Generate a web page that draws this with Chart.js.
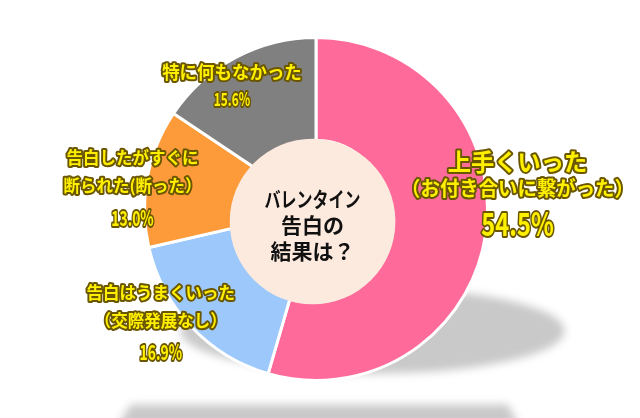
<!DOCTYPE html>
<html>
<head>
<meta charset="utf-8">
<script src="https://cdn.jsdelivr.net/npm/chart.js@4"></script>
<style>
  html, body { margin: 0; padding: 0; background: #fff; }
  #wrap { width: 640px; height: 418px; position: relative; }
</style>
</head>
<body>
<div id="wrap"><canvas id="pieChart"></canvas></div>
<script>
// data
const categories = ['上手くいった', '告白はうまくいった', '告白したがすぐに断られた(断った)', '特に何もなかった'];
const shares = [54.5, 16.9, 13.0, 15.6];
const labelLines = [
    ['上手くいった', '（お付き合いに繋がった）'],
    ['告白はうまくいった', '（交際発展なし）'],
    ['告白したがすぐに', '断られた(断った）'],
    ['特に何もなかった']
];
const centerTitle = ['バレンタイン', '告白の', '結果は？'];

const sliceColors = ['#fe6b9b', '#9cc8fc', '#fd9b3a', '#808080'];

// label anchors, in units of the outer radius from the pie centre
const labelLayout = [
    { dx: 1.175, dy: -0.275, size: [24, 20, 32], gap: 27 },
    { dx: -0.905, dy: 0.485, size: [17, 17, 21], gap: 28 },
    { dx: -1.07, dy: -0.30, size: [17, 17, 21], gap: 28 },
    { dx: -0.49, dy: -0.8, size: [18, 18, 21], gap: 25 }
];

const FONT = '"Noto Sans CJK JP", "Noto Sans", sans-serif';

// draws yellow text with a dark rim; squeeze < 1 narrows the glyphs
function outlinedText(ctx, text, x, y, size, squeeze) {
    ctx.save();
    ctx.font = `bold ${size}px ${FONT}`;
    ctx.translate(x, y);
    ctx.scale(squeeze, 1);
    ctx.lineJoin = 'round';
    ctx.lineWidth = 4;
    ctx.strokeStyle = '#6a5600';
    ctx.strokeText(text, 0, 0);
    ctx.fillStyle = '#fff000';
    ctx.fillText(text, 0, 0);
    ctx.restore();
}

const decorPlugin = {
    id: 'decor',
    beforeDatasetsDraw(chart) {
        const arc = chart.getDatasetMeta(0).data[0];
        if (!arc) return;
        const { x, y, outerRadius: r } = arc.getProps(['x', 'y', 'outerRadius'], true);
        const ctx = chart.ctx;
        ctx.save();
        ctx.filter = 'blur(4px)';
        ctx.fillStyle = '#c9c9c9';
        // ground shadow under the pie
        ctx.beginPath();
        ctx.ellipse(x + 0.33 * r, y + 0.71 * r, 1.12 * r, 0.25 * r, 0, 0, Math.PI * 2);
        ctx.fill();
        // strip along the bottom
        ctx.beginPath();
        ctx.moveTo(x - 1.08 * r, y + 1.14 * r);
        ctx.lineTo(x + 1.12 * r, y + 1.14 * r);
        ctx.lineTo(x + 1.2 * r, y + 1.3 * r);
        ctx.lineTo(x - 1.18 * r, y + 1.3 * r);
        ctx.closePath();
        ctx.fill();
        ctx.restore();
    },
    afterDatasetsDraw(chart) {
        const meta = chart.getDatasetMeta(0);
        const arc = meta.data[0];
        if (!arc) return;
        const { x, y, outerRadius: r } = arc.getProps(['x', 'y', 'outerRadius'], true);
        const ctx = chart.ctx;
        ctx.save();

        // centre disc
        ctx.beginPath();
        ctx.arc(x - 0.02 * r, y + 0.073 * r, 0.483 * r, 0, Math.PI * 2);
        ctx.fillStyle = '#fdeade';
        ctx.fill();

        ctx.textAlign = 'center';
        ctx.textBaseline = 'middle';
        ctx.fillStyle = '#111';
        ctx.font = `bold 21px ${FONT}`;
        centerTitle.forEach((t, i) => {
            ctx.fillText(t, x - 0.02 * r, y - 0.06 * r + i * 26, 96);
        });

        // slice labels
        shares.forEach((v, i) => {
            const L = labelLayout[i];
            const lx = x + L.dx * r;
            let ly = y + L.dy * r;
            const lines = labelLines[i].concat([v.toFixed(1) + '%']);
            lines.forEach((t, j) => {
                const last = j === lines.length - 1;
                outlinedText(ctx, t, lx, ly, L.size[j], last ? (i === 0 ? 0.74 : 0.66) : 0.97);
                ly += j === lines.length - 2 ? L.gap + (L.size[j + 1] - L.size[j]) / 2 + 2 : L.gap;
            });
        });
        ctx.restore();
    }
};

new Chart(document.getElementById('pieChart'), {
    type: 'doughnut',
    data: {
        labels: categories,
        datasets: [{
            data: shares,
            backgroundColor: sliceColors,
            borderColor: '#fff',
            borderWidth: 3,
            hoverOffset: 0
        }]
    },
    options: {
        responsive: true,
        maintainAspectRatio: false,
        animation: false,
        cutout: '40%',
        layout: { padding: { top: 36, bottom: 36, left: 0, right: 8 } },
        plugins: {
            legend: { display: false },
            tooltip: { enabled: false }
        }
    },
    plugins: [decorPlugin]
});
</script>
</body>
</html>
